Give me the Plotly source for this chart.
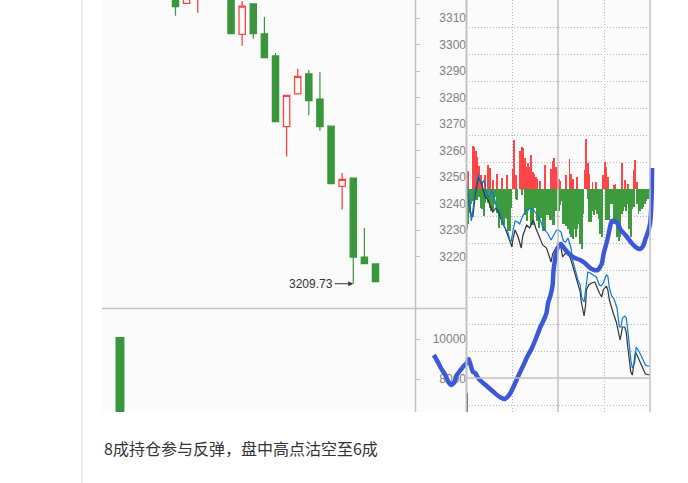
import plotly.graph_objects as go

W, H = 688, 483


def fx(p):
    return p / W


def fy(p):
    return 1 - p / H


# ---------------- daily candles (left panel) ----------------
candle_idx = [0, 1, 2, 5, 6, 7, 8, 9, 10, 11, 12, 13, 14, 15, 16, 17, 18]
candle_open = [3320.5, 3315.5, 3318.0, 3322.0, 3303.8, 3315.3, 3304.0, 3295.7, 3269.0,
               3281.4, 3288.9, 3279.4, 3269.2, 3246.5, 3249.6, 3219.8, 3217.2]
candle_high = [3323.0, 3320.5, 3325.0, 3325.0, 3316.4, 3315.3, 3310.4, 3296.8, 3280.8,
               3290.8, 3290.4, 3289.6, 3269.2, 3251.5, 3249.6, 3230.8, 3217.5]
candle_low = [3310.9, 3315.5, 3312.0, 3304.1, 3299.5, 3302.2, 3295.0, 3270.9, 3257.7,
              3281.4, 3273.4, 3267.5, 3247.5, 3237.7, 3209.73, 3217.3, 3210.5]
candle_close = [3314.3, 3318.5, 3322.0, 3304.1, 3314.5, 3304.1, 3295.0, 3270.9, 3280.8,
                3288.0, 3278.8, 3269.0, 3247.5, 3249.1, 3219.8, 3217.3, 3210.5]
low_label_idx = 16
low_label_val = 3209.73

vol_idx = [-5]
vol_val = [10100]

price_ticks = [3220, 3230, 3240, 3250, 3260, 3270, 3280, 3290, 3300, 3310]
vol_ticks = [8000, 10000]
vol_tick_text = ["8000", "10000"]

# ---------------- intraday panel (right) ----------------
bar_minutes = [2 * i + 1 for i in range(120)]
red_strength = [17, 18, 0, 0, 43, 42, 38, 32, 23, 14,
                8, 0, 14, 0, 24, 21, 0, 9, 0, 0,
                15, 0, 0, 11, 0, 0, 14, 0, 0, 0,
                20, 49, 14, 0, 0, 38, 42, 41, 31, 22,
                26, 22, 34, 17, 15, 12, 10, 0, 8, 0,
                0, 24, 0, 0, 0, 20, 28, 31, 22, 19,
                10, 8, 0, 0, 0, 14, 0, 30, 15, 10,
                0, 0, 12, 0, 0, 0, 0, 19, 50, 26,
                15, 0, 7, 0, 7, 0, 0, 0, 0, 14,
                27, 22, 12, 0, 0, 0, 4, 5, 0, 0,
                0, 26, 0, 9, 0, 5, 0, 0, 0, 19,
                29, 7, 0, 0, 0, 0, 0, 0, 0, 0]
green_strength = [-40, -35, -24, -15, -12, -10, -11, -11, -8, -19,
                  -20, -27, -14, -10, -14, -19, -22, -22, -15, -8,
                  -24, -39, -30, -36, -36, -29, -30, -42, -42, -19,
                  0, 0, -10, -11, 0, 0, -6, 0, -26, -32,
                  -22, -20, -36, -36, -19, -19, -32, -39, -29, -29,
                  -42, -42, -26, -26, -31, -31, -36, -36, -22, 0,
                  -22, -16, -12, -35, -35, -37, -40, -45, -48, -50,
                  -40, -48, -40, -35, -55, -60, -25, 0, 0, -10,
                  -33, -33, -22, -26, -21, -25, -30, -45, -48, 0,
                  0, -31, -31, -31, -15, -15, -35, -35, -48, -52,
                  -48, -25, -22, -18, -22, -15, -40, -48, -20, -18,
                  0, -15, -25, -22, -20, -18, -15, -12, -10, -8]

blue_min = [1, 4, 7, 9, 12, 16, 18, 21, 24, 26, 29, 31, 34, 37, 40, 44, 47, 51, 55, 57,
            59, 61, 64, 67, 70, 74, 78, 84, 87, 91, 97, 100, 104, 107, 111, 114, 118, 121, 124, 127,
            130, 133, 134, 137, 139, 142, 146, 149, 151, 154, 157, 159, 162, 166, 170, 174, 176, 179, 183, 185,
            187, 190, 193, 197, 198, 200, 202, 204, 207, 209, 211, 213, 215, 217, 220, 222, 224, 226, 228, 231,
            234, 237, 240]
blue_val = [6, -11, -32, -21, -1, 15, 9, 6, 9, -3, -9, -6, -1, -9, -19, -23, -33, -39, -44, -51,
            -52, -43, -32, -33, -35, -27, -22, -19, -20, -24, -31, -38, -42, -45, -51, -47, -41, -41, -43, -52,
            -53, -49, -52, -59, -71, -81, -91, -96, -109, -113, -97, -83, -84, -86, -88, -96, -97, -94, -86, -87,
            -99, -107, -110, -119, -128, -138, -138, -129, -127, -129, -141, -158, -171, -179, -174, -158, -160, -163, -166, -171,
            -176, -177, -177]

black_min = [1, 4, 7, 9, 12, 16, 20, 22, 25, 29, 31, 35, 39, 43, 47, 51, 53, 56, 60, 61,
             64, 68, 72, 74, 79, 83, 88, 91, 96, 100, 105, 109, 111, 113, 118, 121, 124, 126, 129, 133,
             137, 142, 146, 149, 150, 152, 154, 156, 157, 160, 164, 168, 171, 174, 177, 179, 183, 185, 187, 189,
             192, 196, 199, 201, 203, 204, 207, 209, 211, 213, 215, 217, 219, 221, 223, 226, 229, 231, 234, 240]
black_val = [4, -16, -26, -28, -6, 11, 6, -1, -8, -11, -16, -23, -19, -24, -33, -39, -43, -49, -58, -51,
             -41, -48, -59, -47, -36, -39, -31, -39, -49, -56, -59, -68, -73, -65, -58, -54, -59, -68, -65, -63,
             -71, -84, -94, -103, -111, -119, -127, -116, -101, -96, -94, -93, -99, -104, -108, -101, -97, -101, -111, -117,
             -124, -133, -144, -151, -143, -138, -138, -143, -158, -171, -183, -186, -176, -163, -166, -171, -176, -180, -185, -186]

intraday_vol_min = [1]
intraday_vol = [19]

# hand-drawn blue stroke (minutes / strength units of the intraday panel)
curve_min = [-42, -36, -32, -27, -23, -19, -15, -12, -8, -3, 1, 3.5, 6, 9, 12, 15, 18, 27, 36, 44,
             51, 54, 58, 63, 67, 70, 75, 79, 86, 92, 97, 102, 105, 107, 110, 113, 114, 116, 118, 121,
             124, 127, 131, 136, 142, 149, 155, 162, 167, 172, 177, 180, 184, 187, 190, 194, 198, 202, 209, 216,
             223, 227, 231, 234, 237, 240, 241.5, 242.3, 242.8]
curve_val = [-166, -174, -180, -186, -193, -196, -193, -186, -182, -177, -174, -170, -176, -183, -184, -188, -191, -197, -203, -208,
             -210, -208, -204, -196, -189, -184, -176, -169, -159, -148, -138, -130, -124, -114, -107, -96, -83, -71, -62, -57,
             -55, -58, -62, -66, -69, -71, -74, -79, -81, -81, -75, -63, -52, -41, -32, -32, -35, -41, -47, -54,
             -59, -60, -57, -50, -44, -35, -21, -1, 21]

caption = "8成持仓参与反弹，盘中高点沽空至6成"

# ---------------- figure ----------------
GREEN = "#3a963a"
RED = "#ff4444"
BG = "#fbfbfb"
FRAME = "#c2c2c2"
TICKFONT = dict(family="Liberation Sans, Arial, sans-serif", size=12, color="#808080")

fig = go.Figure()

fig.add_trace(go.Candlestick(
    x=candle_idx, open=candle_open, high=candle_high, low=candle_low, close=candle_close,
    xaxis="x", yaxis="y",
    increasing=dict(line=dict(color=RED, width=1.3), fillcolor=BG),
    decreasing=dict(line=dict(color=GREEN, width=1.2), fillcolor=GREEN),
    whiskerwidth=0, showlegend=False, hoverinfo="skip"))
fig.add_trace(go.Scatter(x=[None], y=[None], xaxis="x", yaxis="y5", showlegend=False, hoverinfo="skip"))

fig.add_trace(go.Bar(x=vol_idx, y=vol_val, width=0.8, marker=dict(color=GREEN, line=dict(width=0)),
                     xaxis="x2", yaxis="y2", showlegend=False, hoverinfo="skip"))
fig.add_trace(go.Scatter(x=[None], y=[None], xaxis="x2", yaxis="y6", showlegend=False, hoverinfo="skip"))

fig.add_trace(go.Bar(x=bar_minutes, y=red_strength, width=1.3, marker=dict(color="#ff4545", line=dict(width=0)),
                     xaxis="x3", yaxis="y3", showlegend=False, hoverinfo="skip"))
fig.add_trace(go.Bar(x=bar_minutes, y=green_strength, width=1.2, marker=dict(color="#3d9a3d", line=dict(width=0)),
                     xaxis="x3", yaxis="y3", showlegend=False, hoverinfo="skip"))
fig.add_trace(go.Scatter(x=black_min, y=black_val, mode="lines", line=dict(color="#333333", width=1.2),
                         xaxis="x3", yaxis="y3", showlegend=False, hoverinfo="skip"))
fig.add_trace(go.Scatter(x=blue_min, y=blue_val, mode="lines", line=dict(color="#0a78d6", width=1.2),
                         xaxis="x3", yaxis="y3", showlegend=False, hoverinfo="skip"))
fig.add_trace(go.Bar(x=intraday_vol_min, y=intraday_vol, width=2, marker=dict(color="#333333", line=dict(width=0)),
                     xaxis="x3", yaxis="y7", showlegend=False, hoverinfo="skip"))

fig.add_trace(go.Scatter(x=curve_min, y=curve_val, mode="lines",
                         line=dict(color="#3c58d8", width=4.5, shape="spline", smoothing=0.5),
                         xaxis="x4", yaxis="y4", showlegend=False, hoverinfo="skip"))

left_range = [-6.615, 21.555]
price_range = [3200.57, 3316.8]
intr_range = [-223, 189]

fig.update_layout(
    width=W, height=H, margin=dict(l=0, r=0, t=0, b=0),
    paper_bgcolor="white", plot_bgcolor="rgba(0,0,0,0)",
    barmode="overlay", boxgap=0.19, showlegend=False,
    xaxis=dict(domain=[fx(102), fx(415)], range=left_range, anchor="y", visible=False,
               rangeslider=dict(visible=False)),
    yaxis=dict(domain=[fy(308), 1], range=price_range, anchor="x", side="right",
               tickvals=price_ticks, ticks="outside", ticklen=4, tickcolor=FRAME,
               showticklabels=False, showgrid=False, zeroline=False, showline=False),
    yaxis5=dict(overlaying="y", anchor="free", position=fx(466), side="left", range=price_range,
                tickvals=price_ticks, ticks="", showgrid=False, zeroline=False, showline=False,
                tickfont=TICKFONT),
    xaxis2=dict(domain=[fx(102), fx(415)], range=left_range, anchor="y2", visible=False),
    yaxis2=dict(domain=[fy(412), fy(309)], range=[6350, 11500], anchor="x2", side="right",
                tickvals=vol_ticks, ticks="outside", ticklen=4, tickcolor=FRAME,
                showticklabels=False, showgrid=False, zeroline=False, showline=False),
    yaxis6=dict(overlaying="y2", anchor="free", position=fx(466), side="left", range=[6350, 11500],
                tickvals=vol_ticks, ticktext=vol_tick_text, ticks="", showgrid=False, zeroline=False,
                showline=False, tickfont=TICKFONT),
    xaxis3=dict(domain=[fx(466), fx(650)], range=[0, 240], anchor="y3", tickvals=[60, 180],
                showticklabels=False, ticks="", showgrid=True, gridcolor="#b8b8b8", gridwidth=1,
                griddash="1px,2px", zeroline=False, showline=False),
    yaxis3=dict(domain=[fy(412), 1], range=intr_range, anchor="x3",
                tickvals=[-216, -162, -135, -108, -81, -54, -27, 0, 27, 54, 81, 108, 135, 162],
                showticklabels=False, ticks="", showgrid=True, gridcolor="#b8b8b8", gridwidth=1,
                griddash="1px,2px", zeroline=False, showline=False),
    yaxis7=dict(overlaying="y3", range=[0, 412], visible=False),
    xaxis4=dict(domain=[fx(420), fx(660)], range=[-60, 253.04], anchor="y4", visible=False),
    yaxis4=dict(domain=[fy(412), 1], range=intr_range, anchor="x4", visible=False),
)

shapes = [
    dict(type="rect", xref="paper", yref="paper", x0=fx(102), x1=fx(650), y0=fy(412), y1=1,
         fillcolor=BG, line=dict(width=0), layer="below"),
    dict(type="line", xref="paper", yref="paper", x0=fx(82), x1=fx(82), y0=0, y1=1,
         line=dict(color="#dddddd", width=1)),
    dict(type="line", xref="paper", yref="paper", x0=fx(415.5), x1=fx(415.5), y0=fy(412), y1=1,
         line=dict(color=FRAME, width=1.5)),
    dict(type="line", xref="paper", yref="paper", x0=fx(466.5), x1=fx(466.5), y0=fy(412), y1=1,
         line=dict(color=FRAME, width=2)),
    dict(type="line", xref="paper", yref="paper", x0=fx(650), x1=fx(650), y0=fy(412), y1=1,
         line=dict(color=FRAME, width=1.5)),
    dict(type="line", xref="paper", yref="paper", x0=fx(102), x1=fx(466), y0=fy(308.5), y1=fy(308.5),
         line=dict(color=FRAME, width=1.5)),
    dict(type="line", xref="x3", yref="paper", x0=120, x1=120, y0=fy(412), y1=1,
         line=dict(color=FRAME, width=1.5)),
    dict(type="line", xref="x3", yref="y3", x0=0, x1=240, y0=-189, y1=-189,
         line=dict(color=FRAME, width=1.5)),
]
fig.update_layout(shapes=shapes)

fig.add_annotation(x=low_label_idx, y=low_label_val, xref="x", yref="y", text=f"{low_label_val:.2f}",
                   showarrow=True, ax=-42, ay=0, arrowhead=2, arrowsize=1, arrowwidth=1,
                   arrowcolor="#333333", standoff=0,
                   font=dict(family="Liberation Sans, Arial, sans-serif", size=12, color="#333333"))
fig.add_annotation(x=fx(102), y=fy(448), xref="paper", yref="paper", text=caption, showarrow=False,
                   xanchor="left", yanchor="middle",
                   font=dict(family="Noto Sans CJK SC, sans-serif", size=16, color="#333333"))

fig.write_html("out.html", config={"displayModeBar": False},
               post_script="document.body.style.margin='0';document.body.style.overflow='hidden';")
